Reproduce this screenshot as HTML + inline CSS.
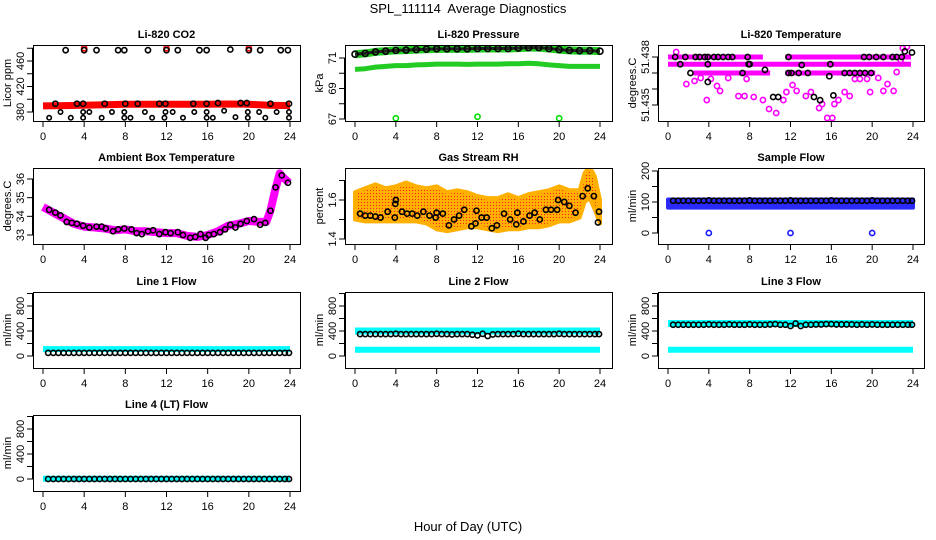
<!DOCTYPE html>
<html><head><meta charset="utf-8"><style>
body{margin:0;background:#fff}
svg{display:block;font-family:"Liberation Sans",sans-serif}
</style></head><body>
<svg id="c" width="936" height="540" viewBox="0 0 936 540" xmlns="http://www.w3.org/2000/svg">
<defs>
<pattern id="rhpat" width="3" height="3" patternUnits="userSpaceOnUse"><rect width="3" height="3" fill="#ffb000"/><rect x="1" y="1" width="1" height="1" fill="#ff2020"/></pattern>
</defs>
<text x="468" y="13" text-anchor="middle" font-size="13" style="white-space:pre">SPL_111114  Average Diagnostics</text>
<text x="468" y="531" text-anchor="middle" font-size="13">Hour of Day (UTC)</text>
</svg>
<script>
// ---- data ----
const xTicks=[0,4,8,12,16,20,24];
const co2BandH=[0,2,4,6,8,12,16,18,20,22,24];
const co2BandV=[389.5,390,390.5,391.5,392,392,392,392.5,392,390.5,390];
const co2BlkH=[1.2,3.3,3.9,6,8,9.2,11.3,11.9,14.6,15.9,17,19.2,19.8,22.1,23.9];
const co2BlkV=[393,393,393,393,393,393,393,393,393,393,394,394,394,393,393];
const co2TopH=[2.2,4,5.2,7.3,7.9,10.2,12,13.1,15.2,15.9,18.2,20,21.1,23.1,23.8];
const co2TopV=[477,477,477,477,477,477,477,477,477,477,478,477,477,477,477];
const co2RedH=[4,12,20];
const co2RedV=[480,480,480];
const co2MidH=[1.7,3.9,4.5,6.7,7.9,9.9,11.9,12.6,14.7,15.9,17.6,19.9,21,22.7,23.9];
const co2MidV=[380,380,380,380,380,380,380,380,380,380,382,380,380,380,380];
const co2LowH=[0.6,2.7,3.9,5.7,7.9,8.5,10.6,11.8,13.6,15.9,16.5,18.7,19.9,21.6,23.9];
const co2LowV=[371,371,371,371,371,371,371,371,371,371,371,372,371,371,371];

const pH=[0,1,2,3,4,5,6,7,8,9,10,11,12,13,14,15,16,17,18,19,20,21,22,23,24];
const pUpV=[71.25,71.3,71.4,71.45,71.5,71.52,71.55,71.58,71.6,71.6,71.6,71.6,71.62,71.62,71.62,71.62,71.65,71.68,71.68,71.62,71.55,71.5,71.48,71.48,71.45];
const pLoV=[70.25,70.3,70.4,70.45,70.5,70.5,70.55,70.57,70.6,70.6,70.6,70.58,70.6,70.6,70.6,70.62,70.62,70.65,70.62,70.55,70.5,70.45,70.45,70.45,70.45];
const pOutH=[4,12,20];
const pOutV=[67.05,67.15,67.05];

const tBandV=[51.438,51.438,51.43755,51.437,51.437];
const tBandS=[0,11.5,0,2.5,11.5];
const tBandE=[9.3,23.8,23.8,10,20.3];
const tPtH=[0.8,1.8,2.6,3.2,3.8,4.2,4.8,5.1,5.9,6.9,7.5,7.7,8.4,9.3,9.9,10.6,11.3,11.6,12.2,12.6,13.5,14.0,14.8,15.1,15.6,16.1,16.3,16.7,17.3,17.8,18.3,18.8,19.5,19.8,20.6,21.1,21.5,22.1,22.4,22.8,23.4,23.0];
const tPtV=[51.43831,51.43631,51.4365,51.43669,51.43531,51.43663,51.43619,51.43588,51.43669,51.43556,51.43556,51.43663,51.4355,51.43531,51.43475,51.4345,51.43531,51.43581,51.43625,51.43588,51.43556,51.43581,51.43481,51.43506,51.43419,51.43419,51.43506,51.43531,51.43581,51.43556,51.43663,51.43663,51.43663,51.43581,51.43669,51.43588,51.43631,51.43588,51.43706,51.43781,51.43863,51.43856];
const tBlkH=[0.7,1.7,2.7,3.1,3.6,3.9,4.5,4.9,5.4,5.9,6.3,7.8,11.8,19.2,19.7,20.4,21.1,22.0,22.4,22.9,1.2,3.9,7.9,8.0,15.9,2.2,7.3,11.8,12.1,12.8,13.7,17.3,17.8,18.3,18.8,19.3,19.9,3.9,9.5,14.3,15.8,13.1,23.2,23.9,10.3,10.8,14.9,16.2];
const tBlkV=[51.438,51.438,51.438,51.438,51.438,51.438,51.438,51.438,51.438,51.438,51.438,51.438,51.438,51.438,51.438,51.438,51.438,51.438,51.438,51.438,51.43755,51.43755,51.43755,51.43755,51.43755,51.437,51.437,51.437,51.437,51.437,51.437,51.437,51.437,51.437,51.437,51.437,51.437,51.43644,51.4372,51.4355,51.4368,51.4375,51.43835,51.43828,51.4355,51.4355,51.4353,51.4356];

const ambH=[0,1,2,3,4,5,6,7,8,9,10,11,12,13,14,15,16,17,18,19,20,21,21.7,22.1,22.6,23,23.3,23.9];
const ambV=[34.5,34.2,33.9,33.6,33.45,33.4,33.35,33.25,33.3,33.2,33.2,33.15,33.1,33.1,32.95,32.9,33.0,33.2,33.5,33.6,33.75,33.7,33.7,34.3,35.5,36.3,36.1,35.8];
const ambPtH=[0.6,1.2,1.7,2.3,2.8,3.3,3.9,4.5,5.2,5.7,6.1,6.8,7.3,7.9,8.6,9.1,9.6,10.2,10.7,11.3,11.9,12.4,13.1,13.6,14.3,14.8,15.3,15.8,16.1,16.6,17.2,17.7,18.2,18.7,19.2,19.8,20.5,21.1,21.6,22.1,22.6,23.2,23.8];
const ambPtV=[34.35,34.2,34.05,33.7,33.65,33.6,33.5,33.4,33.45,33.45,33.35,33.2,33.3,33.35,33.3,33.1,33.05,33.2,33.25,33.05,33.15,33.1,33.15,33.0,32.85,32.9,33.05,32.85,33.0,33.05,33.15,33.3,33.55,33.4,33.6,33.75,33.85,33.55,33.65,34.3,35.55,36.2,35.8];

const rhH=[0,1,2,3,4,5,6,7,8,9,10,11,12,13,14,15,16,17,18,19,20,21,22,22.5,23,23.5,24];
const rhHi=[1.64,1.66,1.68,1.66,1.67,1.69,1.67,1.66,1.67,1.64,1.65,1.64,1.62,1.61,1.61,1.63,1.61,1.63,1.64,1.65,1.67,1.65,1.65,1.74,1.77,1.72,1.6];
const rhLo=[1.5,1.49,1.49,1.49,1.49,1.49,1.49,1.48,1.45,1.44,1.45,1.46,1.46,1.45,1.44,1.45,1.45,1.46,1.46,1.47,1.49,1.49,1.51,1.59,1.61,1.55,1.48];
const rhPtH=[0.5,1,1.5,2,2.5,3.2,3.9,3.95,4.0,4.6,5.1,5.6,6.1,6.7,7.3,7.9,8,8.6,9.2,9.7,10.2,10.7,11.4,11.8,11.9,12.4,12.9,13.4,13.9,14.6,15.2,15.8,15.9,16.5,17.1,17.6,18.1,18.7,19.2,19.8,19.9,20.5,21,21.6,22.3,22.8,23.4,23.8,23.9];
const rhPtV=[1.53,1.52,1.52,1.515,1.51,1.54,1.51,1.58,1.6,1.54,1.53,1.53,1.52,1.54,1.52,1.51,1.535,1.53,1.47,1.5,1.52,1.55,1.465,1.48,1.545,1.51,1.51,1.455,1.47,1.53,1.5,1.475,1.535,1.49,1.52,1.535,1.5,1.55,1.55,1.55,1.6,1.59,1.57,1.535,1.62,1.66,1.62,1.485,1.54];

const spanH=[0,24];
const sfLo=[82,82];
const sfHi=[108,108];
const sfZeroH=[4,12,20];
const sfZeroV=[0,0,0];
const flowH=[0.5,1,1.5,2,2.5,3,3.5,4,4.5,5,5.5,6,6.5,7,7.5,8,8.5,9,9.5,10,10.5,11,11.5,12,12.5,13,13.5,14,14.5,15,15.5,16,16.5,17,17.5,18,18.5,19,19.5,20,20.5,21,21.5,22,22.5,23,23.5,23.9];
const sfBlkV=[104,104,104,104,104,104,104,105,104,104,104,104,104,104,104,105,104,104,104,104,104,104,104,105,104,104,104,104,104,104,104,105,104,104,104,104,104,104,104,105,104,104,104,104,104,104,104,104];
const l1Cyan=[110,110];
const l1BlkV=[50,50,50,50,50,50,50,50,50,50,50,50,50,50,50,50,50,50,50,50,50,50,50,50,50,50,50,50,50,50,50,50,50,50,50,50,50,50,50,50,50,50,50,50,50,50,50,50];
const l2CyanA=[400,400];
const l2CyanB=[100,100];
const l2BlkV=[350,350,350,350,350,350,350,355,350,350,350,350,350,350,350,355,350,350,345,350,350,350,340,330,355,320,345,350,350,350,350,355,350,350,350,350,350,350,350,355,350,350,350,350,350,350,350,350];
const l3CyanA=[520,520];
const l3CyanB=[100,100];
const l3BlkV=[500,500,500,500,500,500,500,505,500,500,500,505,500,500,500,505,500,500,500,505,510,500,500,480,520,480,500,500,505,505,510,510,505,505,505,505,500,505,500,505,500,500,500,500,500,500,500,500];
const l4Cyan=[5,5];
const l4BlkV=[0,0,0,0,0,0,0,0,0,0,0,0,0,0,0,0,0,0,0,0,0,0,0,0,0,0,0,0,0,0,0,0,0,0,0,0,0,0,0,0,0,0,0,0,0,0,0,0];

// ---- layout ----
const NS="http://www.w3.org/2000/svg";
const svg=document.getElementById('c');
const cols=[{bx:33,bw:267,x0:43,x1:290},{bx:345,bw:267,x0:355,x1:600},{bx:658,bw:266,x0:668,x1:913}];
const rows=[45,168,292,415];
const BH=76;
function el(tag,attrs,parent){const e=document.createElementNS(NS,tag);for(const k in attrs)e.setAttribute(k,attrs[k]);(parent||svg).appendChild(e);return e;}

function panel(name,ci,ri,title,ylab,ticks,labels,ref){
  const c=cols[ci],top=rows[ri];
  const g=el('g',{});
  
  
  const sx=h=>c.x0+(c.x1-c.x0)*h/24;
  const k=(ref[3]-ref[1])/(ref[2]-ref[0]);
  const sy=v=>top+ref[1]+(v-ref[0])*k;
  const t=el('text',{x:c.bx+c.bw/2,y:top-7,'text-anchor':'middle','font-size':11,'font-weight':'bold'},g);
  t.textContent=title;
  
  
  const yl=el('text',{transform:`translate(${c.bx-22},${top+BH/2}) rotate(-90)`,'text-anchor':'middle','font-size':11},g);
  yl.textContent=ylab;
  
  
  const plot=el('g',{},g);
  const clip='clip'+name;
  const cp=el('clipPath',{id:clip},g);el('rect',{x:c.bx,y:top,width:c.bw,height:BH},cp);
  plot.setAttribute('clip-path',`url(#${clip})`);
  
  
  const ax=el('g',{stroke:'#000','stroke-width':1,fill:'none'},g);
  
  
  el('rect',{x:c.bx+0.5,y:top+0.5,width:c.bw,height:BH},ax);
  el('line',{x1:sx(0),x2:sx(24),y1:top+BH+0.5,y2:top+BH+0.5},ax);
  xTicks.forEach(h=>{
    el('line',{x1:sx(h),x2:sx(h),y1:top+BH,y2:top+BH+6},ax);
    const tl=el('text',{x:sx(h),y:top+BH+19,'text-anchor':'middle','font-size':11},g);
    tl.textContent=h;
    
    
  });
  el('line',{x1:c.bx-0.5,x2:c.bx-0.5,y1:sy(ticks[0]),y2:sy(ticks[ticks.length-1])},ax);
  ticks.forEach((v,i)=>{
    el('line',{x1:c.bx-6,x2:c.bx,y1:sy(v),y2:sy(v)},ax);
    if(labels[i]!==''){
      const tl=el('text',{transform:`translate(${c.bx-9},${sy(v)}) rotate(-90)`,'text-anchor':'middle','font-size':11},g);
      tl.textContent=labels[i];
      
      
    }
  });
  return {plot,sx,sy};
}
function band(p,H,V,color,w,name){
  const pts=H.map((h,i)=>p.sx(h).toFixed(1)+','+p.sy(V[i]).toFixed(1)).join(' ');
  const e=el('polyline',{points:pts,fill:'none',stroke:color,'stroke-width':w,'stroke-linejoin':'round'},p.plot);
  
  
}
function area(p,H,lo,hi,fill,name){
  const a=H.map((h,i)=>p.sx(h).toFixed(1)+','+p.sy(hi[i]).toFixed(1));
  const b=H.map((h,i)=>p.sx(h).toFixed(1)+','+p.sy(lo[i]).toFixed(1)).reverse();
  const e=el('polygon',{points:a.concat(b).join(' '),fill:fill,stroke:fill==='url(#rhpat)'?'#ffb000':fill,'stroke-width':4,'stroke-linejoin':'round'},p.plot);
  
  
}
function pts(p,H,V,color,name,r){
  H.forEach((h,i)=>{
    const e=el('circle',{cx:p.sx(h),cy:p.sy(V[i]),r:r||2.6,fill:'none',stroke:color,'stroke-width':1.6},p.plot);
    
    
  });
}

// CO2
let p=panel('co2',0,0,'Li-820 CO2','Licor ppm',[380,400,420,440,460,480],['380','','420','','460',''],[380,67,460,16]);
band(p,co2BandH,co2BandV,'#ff0000',7,'co2-red-band');
pts(p,co2RedH,co2RedV,'#ff0000','co2-red-point');
pts(p,co2BlkH,co2BlkV,'#000','co2-black-point');
pts(p,co2TopH,co2TopV,'#000','co2-high-point');
pts(p,co2MidH,co2MidV,'#000','co2-380-point',2.2);
pts(p,co2LowH,co2LowV,'#000','co2-low-point',2.2);

// Pressure
p=panel('pressure',1,0,'Li-820 Pressure','kPa',[67,68,69,70,71],['67','','69','','71'],[67,74,71,13]);
band(p,pH,pLoV,'#22cc22',5,'pressure-green-band');
band(p,pH,pUpV,'#22cc22',8,'pressure-green-upper');
band(p,pH,pUpV,'#222',3,'pressure-black-band');
pts(p,pH,pUpV,'#000','pressure-black-point',3);
pts(p,pOutH,pOutV,'#00dd00','pressure-outlier');

// Temperature
p=panel('li820-temp',2,0,'Li-820 Temperature','degrees.C',[51.438,51.437,51.436,51.435],['51.438','','','51.435'],[51.438,12,51.435,60]);
tBandV.forEach((v,i)=>band(p,[tBandS[i],tBandE[i]],[v,v],'#ff00ff',5,'temp-magenta-band'));
pts(p,tPtH,tPtV,'#ff00ff','temp-magenta-point');
pts(p,tBlkH,tBlkV,'#000','temp-black-point');

// Ambient
p=panel('ambient',0,1,'Ambient Box Temperature','degrees.C',[33,34,35,36],['33','34','35','36'],[33,67,36,11]);
band(p,ambH,ambV,'#ff00ff',8,'ambient-magenta-band');
pts(p,ambPtH,ambPtV,'#000','ambient-black-point');

// RH
p=panel('rh',1,1,'Gas Stream RH','percent',[1.4,1.5,1.6,1.7],['1.4','','1.6',''],[1.4,71,1.6,32]);
area(p,rhH,rhLo,rhHi,'url(#rhpat)','rh-cloud');
pts(p,rhPtH,rhPtV,'#000','rh-black-point');

// Sample flow
p=panel('sample-flow',2,1,'Sample Flow','ml/min',[0,50,100,150,200],['0','','100','','200'],[0,65,200,3]);
area(p,spanH,sfLo,sfHi,'#2a2aff','sample-flow-blue-band');
pts(p,flowH,sfBlkV,'#000','sample-flow-black-point');
pts(p,sfZeroH,sfZeroV,'#1a1aff','sample-flow-zero-point');

const fT=[0,200,400,600,800,1000],fL=['0','','400','','800',''],fR=[0,64,800,14];
p=panel('line1',0,2,'Line 1 Flow','ml/min',fT,fL,fR);
band(p,spanH,l1Cyan,'#00ffff',6,'line1-cyan-band');
pts(p,flowH,l1BlkV,'#000','line1-black-point');

p=panel('line2',1,2,'Line 2 Flow','ml/min',fT,fL,fR);
band(p,spanH,l2CyanA,'#00ffff',7,'line2-cyan-upper');
band(p,spanH,l2CyanB,'#00ffff',6,'line2-cyan-lower');
pts(p,flowH,l2BlkV,'#000','line2-black-point');

p=panel('line3',2,2,'Line 3 Flow','ml/min',fT,fL,fR);
band(p,spanH,l3CyanA,'#00ffff',7,'line3-cyan-upper');
band(p,spanH,l3CyanB,'#00ffff',6,'line3-cyan-lower');
pts(p,flowH,l3BlkV,'#000','line3-black-point');

p=panel('line4',0,3,'Line 4 (LT) Flow','ml/min',fT,fL,fR);
band(p,spanH,l4Cyan,'#00ffff',6,'line4-cyan-band');
pts(p,flowH,l4BlkV,'#000','line4-black-point');
</script>
</body></html>
